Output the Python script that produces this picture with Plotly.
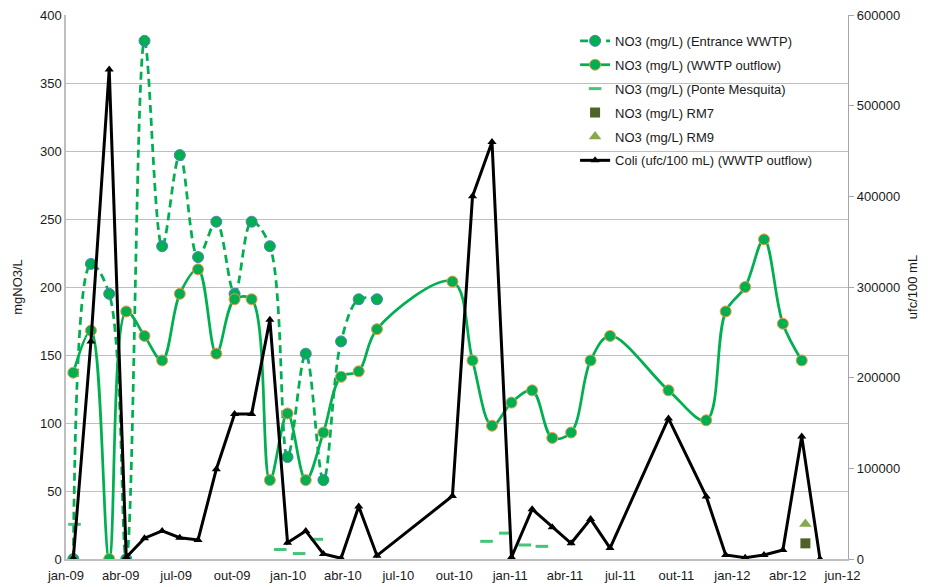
import plotly.graph_objects as go

# ---------------- data ----------------
dates_entrance = ["2009-01-13", "2009-02-11", "2009-03-13", "2009-04-10", "2009-05-10", "2009-06-08",
                  "2009-07-07", "2009-08-06", "2009-09-05", "2009-10-05", "2009-11-02", "2009-12-02",
                  "2009-12-31", "2010-01-30", "2010-02-28", "2010-03-29", "2010-04-27", "2010-05-27"]
no3_entrance = [0, 217, 195, 0, 381, 230, 297, 222, 248, 195, 248, 230, 75, 151, 58, 160, 191, 191]

dates_outflow = dates_entrance + ["2010-09-28", "2010-10-31", "2010-12-02", "2011-01-03", "2011-02-06",
                                  "2011-03-11", "2011-04-11", "2011-05-13", "2011-06-14", "2011-09-18",
                                  "2011-11-19", "2011-12-21", "2012-01-22", "2012-02-22", "2012-03-24",
                                  "2012-04-24"]
no3_outflow = [137, 168, 0, 182, 164, 146, 195, 213, 151, 191, 191, 58, 107, 58, 93, 134, 138, 169,
               204, 146, 98, 115, 124, 89, 93, 146, 164, 124, 102, 182, 200, 235, 173, 146]

dates_ponte = ["2009-01-15", "2009-12-19", "2010-01-19", "2010-02-17",
               "2010-11-23", "2010-12-24", "2011-01-25", "2011-02-22"]
no3_ponte = [25.5, 7, 4, 14.5, 13, 19, 10.3, 9.3]

dates_rm = ["2012-04-30"]
no3_rm7 = [11.5]
no3_rm9 = [25.7]

dates_coli = dates_outflow + ["2012-05-24"]
coli_outflow = [1000, 240000, 540000, 2000, 23000, 31000, 23500, 21000, 99000, 160000, 160000, 264000,
                18000, 31000, 5500, 800, 58000, 3700,
                69500, 400000, 460000, 1900, 55000, 35000, 17300, 44000, 12000, 155000, 69000,
                4400, 1500, 4400, 10000, 135000, 0]

tick_dates = ["2009-01-01", "2009-04-01", "2009-07-01", "2009-10-01", "2010-01-01", "2010-04-01",
              "2010-07-01", "2010-10-01", "2011-01-01", "2011-04-01", "2011-07-01", "2011-10-01",
              "2012-01-01", "2012-04-01", "2012-06-30"]
tick_labels = ["jan-09", "abr-09", "jul-09", "out-09", "jan-10", "abr-10", "jul-10", "out-10",
               "jan-11", "abr-11", "jul-11", "out-11", "jan-12", "abr-12", "jun-12"]

GREEN = "#00b050"

fig = go.Figure()

fig.add_trace(go.Scatter(
    x=dates_entrance, y=no3_entrance, name="NO3 (mg/L) (Entrance WWTP)",
    mode="lines+markers", line=dict(color=GREEN, width=2.75, dash="8px,5px", shape="spline", smoothing=1),
    marker=dict(size=11, color=GREEN, line=dict(color="#4f81bd", width=1)),
    legendgroup="g1"))

fig.add_trace(go.Scatter(
    x=dates_outflow, y=no3_outflow, name="NO3 (mg/L) (WWTP outflow)",
    mode="lines+markers", line=dict(color=GREEN, width=2.75, shape="spline", smoothing=1),
    marker=dict(size=11, color=GREEN, line=dict(color="#f79646", width=1)),
    legendgroup="g2"))

fig.add_trace(go.Scatter(
    x=dates_ponte, y=no3_ponte, name="NO3 (mg/L) (Ponte Mesquita)",
    mode="markers",
    marker=dict(symbol="line-ew", size=9, color="#5ccb88", line=dict(color="#45c47a", width=3)),
    legendgroup="g3"))

fig.add_trace(go.Scatter(
    x=dates_rm, y=no3_rm7, name="NO3 (mg/L) RM7", mode="markers",
    marker=dict(symbol="square", size=10, color="#4f6228"), legendgroup="g4"))

fig.add_trace(go.Scatter(
    x=dates_rm, y=no3_rm9, name="NO3 (mg/L) RM9", mode="markers",
    marker=dict(symbol="triangle-up", size=11, color="#86a94c"), legendgroup="g5"))

fig.add_trace(go.Scatter(
    x=dates_coli, y=coli_outflow, name="Coli (ufc/100 mL) (WWTP outflow)", yaxis="y2",
    mode="lines+markers", line=dict(color="black", width=3),
    marker=dict(symbol="triangle-up", size=8, color="black"), legendgroup="g6"))

fig.update_layout(
    width=932, height=587,
    margin=dict(l=66, r=84, t=15, b=28, autoexpand=False),
    plot_bgcolor="white", paper_bgcolor="white",
    font=dict(family="Liberation Sans, Arial, Helvetica, sans-serif", size=13, color="#1a1a1a"),
    showlegend=True,
    legend=dict(x=0.651, y=0.98, xanchor="left", yanchor="top", bgcolor="rgba(0,0,0,0)",
                traceorder="grouped", tracegroupgap=4, itemwidth=30,
                font=dict(size=13, color="#1a1a1a")),
    xaxis=dict(type="date", range=["2009-01-01", "2012-07-09"], tickvals=tick_dates, ticktext=tick_labels,
               showgrid=False, showline=True, linecolor="#bfbfbf", linewidth=1.5, zeroline=False,
               ticks="outside", ticklen=4, tickcolor="rgba(0,0,0,0)", tickfont=dict(size=13),
               automargin=False),
    yaxis=dict(range=[0, 400], dtick=50, showgrid=True, gridcolor="#bfbfbf", gridwidth=1.3,
               showline=True, linecolor="#bfbfbf", linewidth=1.5, zeroline=False, automargin=False,
               title=dict(text="mgNO3/L", font=dict(size=13), standoff=14), tickfont=dict(size=13)),
    yaxis2=dict(overlaying="y", side="right", range=[0, 600000], dtick=100000, tickformat="d",
                showgrid=False, showline=True, linecolor="#a6a6a6", linewidth=1.3, zeroline=False,
                ticks="outside", ticklen=5, tickcolor="#a6a6a6", automargin=False,
                title=dict(text="ufc/100 mL", font=dict(size=13), standoff=8), tickfont=dict(size=13)),
)

fig.write_html("out.html", config={"displayModeBar": False},
               post_script="document.body.style.margin='0';document.body.style.overflow='hidden';")
